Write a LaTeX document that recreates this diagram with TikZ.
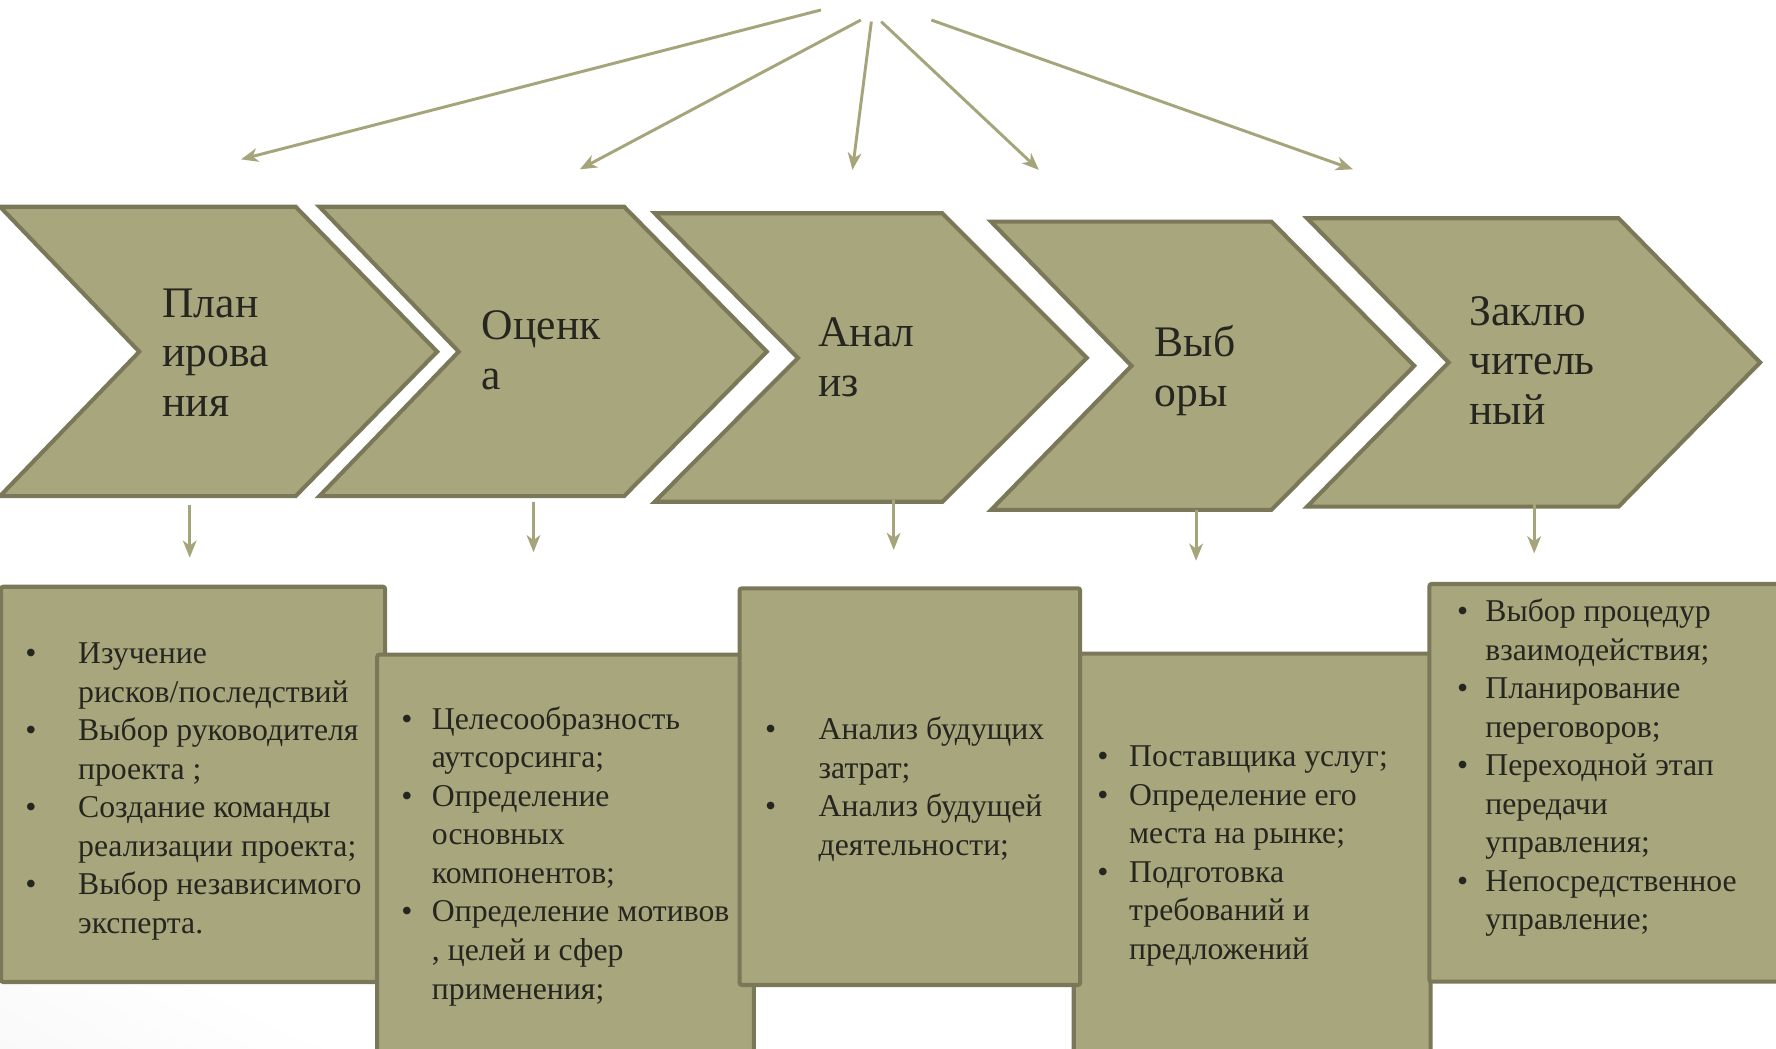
\documentclass[tikz,border=0pt]{standalone}
\usepackage{fontspec}
\setmainfont{Liberation Serif}
\usetikzlibrary{arrows.meta}
\definecolor{olfill}{HTML}{A8A67C}
\definecolor{oledge}{HTML}{7A7858}
\definecolor{olarrow}{HTML}{A6A47B}
\definecolor{txtcol}{HTML}{262620}
\pgfdeclareradialshading{bgshade}{\pgfpoint{10bp}{10bp}}{color(0bp)=(white); color(36bp)=(white); color(50bp)=(black!6); color(72bp)=(black!15)}
\newlength\bind
\newcommand\bitem[1]{\hbox{\hbox to\bind{\textbullet\hfil}#1}}
\newcommand\bcont[1]{\hbox{\hskip\bind\relax #1}}
\newcommand\blist[2]{\vtop{\bind=#1\relax\baselineskip=17pt\relax #2}}
\newcommand\chevtext[1]{\vtop{\baselineskip=22pt\relax #1}}
\tikzset{
  chev/.style={fill=olfill, draw=oledge, line width=1.8pt, line join=miter},
  infobox/.style={fill=olfill, draw=oledge, line width=1.8pt, rounded corners=1pt},
  flowarrow/.style={draw=olarrow, line width=1.3pt, -{Stealth[length=7.5pt,width=6pt,inset=2.2pt]}},
  chevlabel/.style={anchor=base west, inner sep=0pt, text=txtcol, font=\fontsize{19.25}{22}\selectfont},
  listlabel/.style={anchor=base west, inner sep=0pt, text=txtcol, font=\fontsize{14}{17}\selectfont}
}
\begin{document}
\begin{tikzpicture}[x=0.5pt,y=-0.5pt]
\useasboundingbox (0,0) rectangle (1568,926);
\clip (0,0) rectangle (1568,926);
\shade[shading=bgshade] (0,0) rectangle (1568,926);

% top fan of arrows
\coordinate (s1) at (724.8,8.8);   \coordinate (e1) at (212.8,140.7);
\coordinate (s2) at (760,17.7);    \coordinate (e2) at (511.9,149.5);
\coordinate (s3) at (769.3,19.1);  \coordinate (e3) at (752.6,150);
\coordinate (s4) at (778,19.1);    \coordinate (e4) at (917.2,150);
\coordinate (s5) at (822.3,17.7);  \coordinate (e5) at (1194.5,149.5);
\foreach \i in {1,...,5} \draw[flowarrow] (s\i) -- (e\i);

% chevrons
\draw[chev] (0,182.5) -- (261,182.5) -- (386,310.5) -- (261,438) -- (0,438) -- (123,310.5) -- cycle;
\draw[chev] (282,182.5) -- (551,182.5) -- (677,310.5) -- (551,438) -- (282,438) -- (405,310.5) -- cycle;
\draw[chev] (578,188.3) -- (832,188.3) -- (959.5,316) -- (832,443) -- (578,443) -- (704.5,316) -- cycle;
\draw[chev] (875,195.7) -- (1122.5,195.7) -- (1248.6,323) -- (1122.5,450.2) -- (875,450.2) -- (999,323) -- cycle;
\draw[chev] (1154,192.7) -- (1429,192.7) -- (1554,320) -- (1429,447.3) -- (1154,447.3) -- (1279,320) -- cycle;

\node[chevlabel] (c1) at (143,280) {\chevtext{\hbox{План}\hbox{ирова}\hbox{ния}}};
\node[chevlabel] (c2) at (425,300) {\chevtext{\hbox{Оценк}\hbox{а}}};
\node[chevlabel] (c3) at (722,306) {\chevtext{\hbox{Анал}\hbox{из}}};
\node[chevlabel] (c4) at (1019,315) {\chevtext{\hbox{Выб}\hbox{оры}}};
\node[chevlabel] (c5) at (1297,287) {\chevtext{\hbox{Заклю}\hbox{читель}\hbox{ный}}};

% down arrows
\coordinate (d1s) at (167.5,445.8); \coordinate (d1e) at (167.5,492.3);
\coordinate (d2s) at (471,442.9);   \coordinate (d2e) at (471,487.5);
\coordinate (d3s) at (789,441);     \coordinate (d3e) at (789,485.5);
\coordinate (d4s) at (1056,450.2);  \coordinate (d4e) at (1056,495);
\coordinate (d5s) at (1354.5,444);  \coordinate (d5e) at (1354.5,488.5);
\foreach \i in {1,...,5} \draw[flowarrow] (d\i s) -- (d\i e);

% boxes
\draw[infobox] (1,518) rectangle (340,867);
\draw[infobox] (333,578) rectangle (665.5,960);
\draw[infobox] (948,577) rectangle (1263,960);
\draw[infobox] (653,519.4) rectangle (953.6,869.6);
\draw[infobox] (1262,515.6) rectangle (1600,866.7);

\node[listlabel] (b1) at (22,586) {\blist{23.3pt}{%
  \bitem{Изучение}\bcont{рисков/последствий}%
  \bitem{Выбор руководителя}\bcont{проекта ;}%
  \bitem{Создание команды}\bcont{реализации проекта;}%
  \bitem{Выбор независимого}\bcont{эксперта.}}};
\node[listlabel] (b2) at (354,644) {\blist{13.5pt}{%
  \bitem{Целесообразность}\bcont{аутсорсинга;}%
  \bitem{Определение}\bcont{основных}\bcont{компонентов;}%
  \bitem{Определение мотивов}\bcont{, целей и сфер}\bcont{применения;}}};
\node[listlabel] (b3) at (675,653) {\blist{23.7pt}{%
  \bitem{Анализ будущих}\bcont{затрат;}%
  \bitem{Анализ будущей}\bcont{деятельности;}}};
\node[listlabel] (b4) at (968.5,677) {\blist{14pt}{%
  \bitem{Поставщика услуг;}%
  \bitem{Определение его}\bcont{места на рынке;}%
  \bitem{Подготовка}\bcont{требований и}\bcont{предложений}}};
\node[listlabel] (b5) at (1286,549) {\blist{12.5pt}{%
  \bitem{Выбор процедур}\bcont{взаимодействия;}%
  \bitem{Планирование}\bcont{переговоров;}%
  \bitem{Переходной этап}\bcont{передачи}\bcont{управления;}%
  \bitem{Непосредственное}\bcont{управление;}}};
\end{tikzpicture}
\end{document}
